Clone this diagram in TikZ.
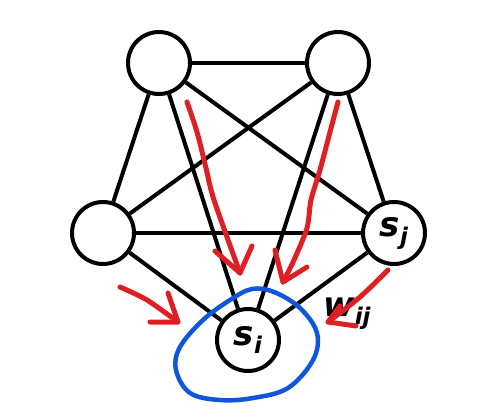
\documentclass[tikz,border=0pt]{standalone}
\usepackage{fontspec}
\setmainfont{DejaVu Sans}
\definecolor{penred}{RGB}{222,32,36}
\definecolor{penblue}{RGB}{16,86,220}
\begin{document}
\begin{tikzpicture}[x=1pt,y=-1pt,
  vtx/.style={circle,draw=black,line width=4pt,minimum size=62pt,inner sep=0pt},
  edge/.style={draw=black,line width=4pt},
  pen/.style={draw=penred,line width=5pt,line cap=round,line join=round},
  blueloop/.style={draw=penblue,line width=4.5pt,line cap=round,line join=round},
  big/.style={font=\fontsize{34}{34}\selectfont\bfseries\itshape},
  lbl/.style={inner sep=0pt}]
\newcommand{\subtxt}[1]{\raisebox{-8pt}{\fontsize{23}{23}\selectfont\bfseries\itshape #1}}
\useasboundingbox (0,0) rectangle (497,418);
% vertices
\node[vtx] (tl) at (159,63) {};
\node[vtx] (tr) at (338,63) {};
\node[vtx] (l)  at (103,233) {};
\node[vtx,big] (sj) at (394,233) {s\subtxt{j}};
\node[vtx,big] (si) at (248,340) {s\subtxt{i}};
% edges
\draw[edge] (tl) -- (tr);
\draw[edge] (tl) -- (l);
\draw[edge] (tl) -- (sj);
\draw[edge] (tl) -- (si);
\draw[edge] (tr) -- (l);
\draw[edge] (tr) -- (sj);
\draw[edge] (tr) -- (si);
\draw[edge] (l) -- (sj);
\draw[edge] (l) -- (si);
\draw[edge] (sj) -- (si);
% weight label
\node[lbl,big] (w) at (347,314) {w\subtxt{ij}};
% blue loop
\draw[blueloop] plot[smooth cycle,tension=0.6] coordinates {(252,289) (274,292) (300,308) (317,333) (313,360) (288,388) (253,398) (220,400) (190,393) (176,370) (180,347) (203,320) (230,300)};
% red arrows
\draw[pen] plot[smooth,tension=0.5] coordinates {(187,102) (197,132) (206,168) (214,200) (240,273)};
\draw[pen] (215,251) -- (240,273) -- (252,246);
\draw[pen] plot[smooth,tension=0.5] coordinates {(338,102) (330,132) (320,170) (311,200) (307,228) (294,260) (283,282)};
\draw[pen] (275,250) -- (283,282) -- (307,267);
\draw[pen] plot[smooth,tension=0.5] coordinates {(120,287) (147,300) (178,322)};
\draw[pen] (168,293) -- (178,322) -- (150,322);
\draw[pen] plot[smooth,tension=0.5] coordinates {(388,270) (360,297) (328,322)};
\draw[pen] (340,306) -- (328,322) -- (356,326);
\end{tikzpicture}
\end{document}
